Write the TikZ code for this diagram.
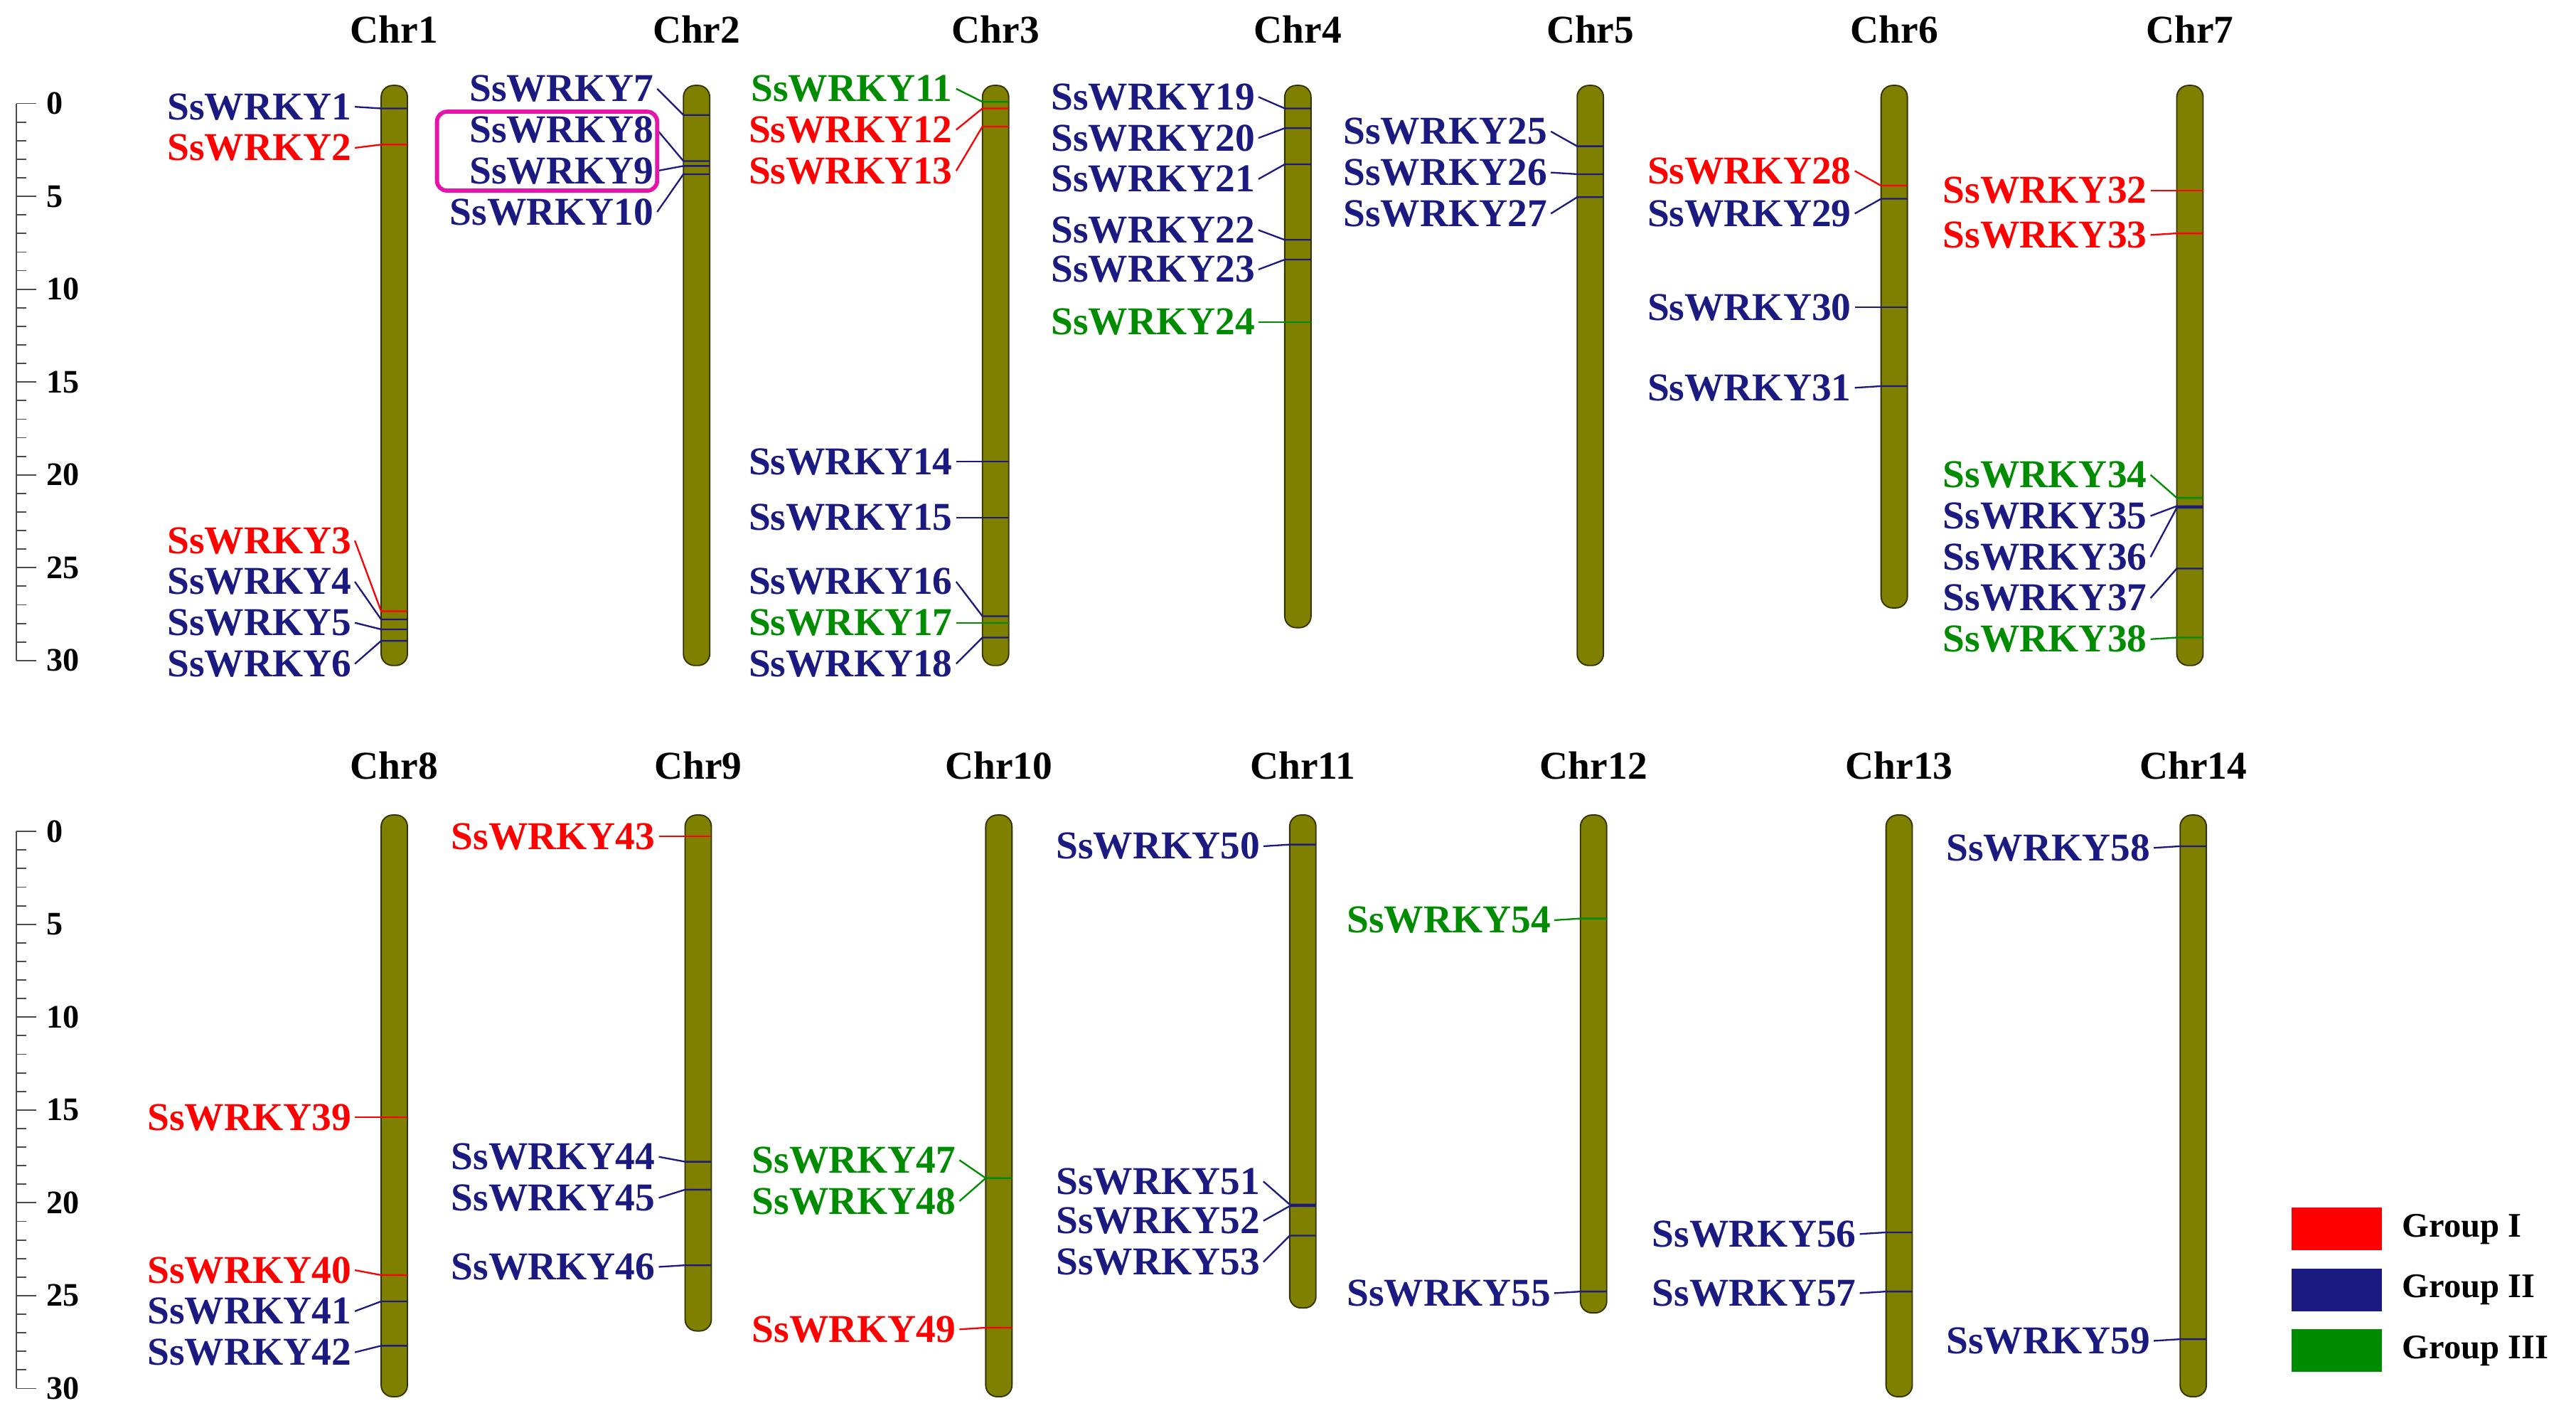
\documentclass[tikz,border=0pt]{standalone}
\usepackage{fontspec}
\setmainfont{Liberation Serif}
\definecolor{gr}{HTML}{FF0000}
\definecolor{gb}{HTML}{1A1A80}
\definecolor{gg}{HTML}{008C00}
\definecolor{chrc}{HTML}{808000}
\begin{document}
\begin{tikzpicture}[x=1pt,y=-1pt,
  lab/.style={anchor=east,inner sep=0pt,font=\fontsize{24}{24}\selectfont\bfseries},
  ttl/.style={inner sep=0pt,font=\fontsize{24}{24}\selectfont\bfseries},
  chr/.style={fill=chrc,draw=black!60!chrc,line width=0.8pt,rounded corners=7pt},
  con/.style={line width=1pt}]
\useasboundingbox (0,0) rectangle (1568,866);
\newcommand\gn[5]{%
  \node[lab,text=#5] (n#4) at (#1-26,#3) {#4};
  \coordinate (m#4) at (#1-8,#2);
  \draw[con,#5] (n#4.east) ++(2,0) -- (m#4) -- ++(16,0);}
% chromosomes
\foreach \x/\t/\b/\n in {240/52/405/1,424/52/405/2,606/52/405/3,790/52/382/4,968/52/405/5,1153/52/370/6,1333/52/405/7,
  240/496/850/8,425/496/810/9,608/496/850/10,793/496/796/11,970/496/799/12,1156/496/850/13,1335/496/850/14}{
  \draw[chr] (\x-8,\t) rectangle (\x+8,\b);}
\foreach \x/\n in {240/1,424/2,606/3,790/4,968/5,1153/6,1333/7}{\node[ttl] (c\n) at (\x,18) {Chr\n};}
\foreach \x/\n in {240/8,425/9,608/10,793/11,970/12,1156/13,1335/14}{\node[ttl] (c\n) at (\x,466) {Chr\n};}
% rulers
\foreach \y in {63,506}{
  \draw[line width=0.8pt,black!70] (10,\y) -- (10,\y+339);
  \foreach \i in {0,...,30}{\draw[line width=0.8pt,black!70] (10,\y+\i*11.3) -- ++(6,0);}
  \foreach \i in {0,5,...,30}{\draw[line width=0.8pt,black!70] (10,\y+\i*11.3) -- ++(12,0);
    \node[anchor=west,inner sep=0pt,font=\fontsize{20}{20}\selectfont\bfseries] (r\y-\i) at (28,\y+\i*11.3) {\i};}
}
% genes
\gn{240}{66}{65}{SsWRKY1}{gb}
\gn{240}{88}{90}{SsWRKY2}{gr}
\gn{240}{372}{329}{SsWRKY3}{gr}
\gn{240}{377}{354}{SsWRKY4}{gb}
\gn{240}{383}{379}{SsWRKY5}{gb}
\gn{240}{390}{404}{SsWRKY6}{gb}
\gn{424}{70}{54}{SsWRKY7}{gb}
\gn{424}{98}{79}{SsWRKY8}{gb}
\gn{424}{101}{104}{SsWRKY9}{gb}
\gn{424}{106}{129}{SsWRKY10}{gb}
\gn{606}{62}{54}{SsWRKY11}{gg}
\gn{606}{66}{79}{SsWRKY12}{gr}
\gn{606}{77}{104}{SsWRKY13}{gr}
\gn{606}{281}{281}{SsWRKY14}{gb}
\gn{606}{315}{315}{SsWRKY15}{gb}
\gn{606}{375}{354}{SsWRKY16}{gb}
\gn{606}{379}{379}{SsWRKY17}{gg}
\gn{606}{388}{404}{SsWRKY18}{gb}
\gn{790}{66}{59}{SsWRKY19}{gb}
\gn{790}{78}{84}{SsWRKY20}{gb}
\gn{790}{100}{109}{SsWRKY21}{gb}
\gn{790}{146}{140}{SsWRKY22}{gb}
\gn{790}{158}{164}{SsWRKY23}{gb}
\gn{790}{196}{196}{SsWRKY24}{gg}
\gn{968}{89}{80}{SsWRKY25}{gb}
\gn{968}{106}{105}{SsWRKY26}{gb}
\gn{968}{120}{130}{SsWRKY27}{gb}
\gn{1153}{113}{104}{SsWRKY28}{gr}
\gn{1153}{121}{130}{SsWRKY29}{gb}
\gn{1153}{187}{187}{SsWRKY30}{gb}
\gn{1153}{235}{236}{SsWRKY31}{gb}
\gn{1333}{116}{116}{SsWRKY32}{gr}
\gn{1333}{142}{143}{SsWRKY33}{gr}
\gn{1333}{303}{289}{SsWRKY34}{gg}
\gn{1333}{308}{314}{SsWRKY35}{gb}
\gn{1333}{309}{339}{SsWRKY36}{gb}
\gn{1333}{346}{364}{SsWRKY37}{gb}
\gn{1333}{388}{389}{SsWRKY38}{gg}
\gn{240}{680}{680}{SsWRKY39}{gr}
\gn{240}{776}{773}{SsWRKY40}{gr}
\gn{240}{792}{798}{SsWRKY41}{gb}
\gn{240}{819}{823}{SsWRKY42}{gb}
\gn{425}{509}{509}{SsWRKY43}{gr}
\gn{425}{707}{704}{SsWRKY44}{gb}
\gn{425}{724}{729}{SsWRKY45}{gb}
\gn{425}{770}{771}{SsWRKY46}{gb}
\gn{608}{717}{706}{SsWRKY47}{gg}
\gn{608}{717}{731}{SsWRKY48}{gg}
\gn{608}{808}{809}{SsWRKY49}{gr}
\gn{793}{514}{515}{SsWRKY50}{gb}
\gn{793}{733}{719}{SsWRKY51}{gb}
\gn{793}{734}{743}{SsWRKY52}{gb}
\gn{793}{752}{768}{SsWRKY53}{gb}
\gn{970}{559}{560}{SsWRKY54}{gg}
\gn{970}{786}{787}{SsWRKY55}{gb}
\gn{1156}{750}{751}{SsWRKY56}{gb}
\gn{1156}{786}{787}{SsWRKY57}{gb}
\gn{1335}{515}{516}{SsWRKY58}{gb}
\gn{1335}{815}{816}{SsWRKY59}{gb}
% highlight box
\draw[draw={rgb,255:red,230;green,20;blue,170},line width=2.5pt,rounded corners=6pt] (266,68) rectangle (400,116);
% legend
\foreach \c/\y/\t in {gr/748/Group I,gb/785/Group II,gg/822/Group III}{
  \fill[\c] (1395,\y-13) rectangle (1450,\y+13);
  \node[anchor=west,inner sep=0pt,font=\fontsize{21}{21}\selectfont\bfseries] (l\t) at (1462,\y) {\t};}
\end{tikzpicture}
\end{document}
